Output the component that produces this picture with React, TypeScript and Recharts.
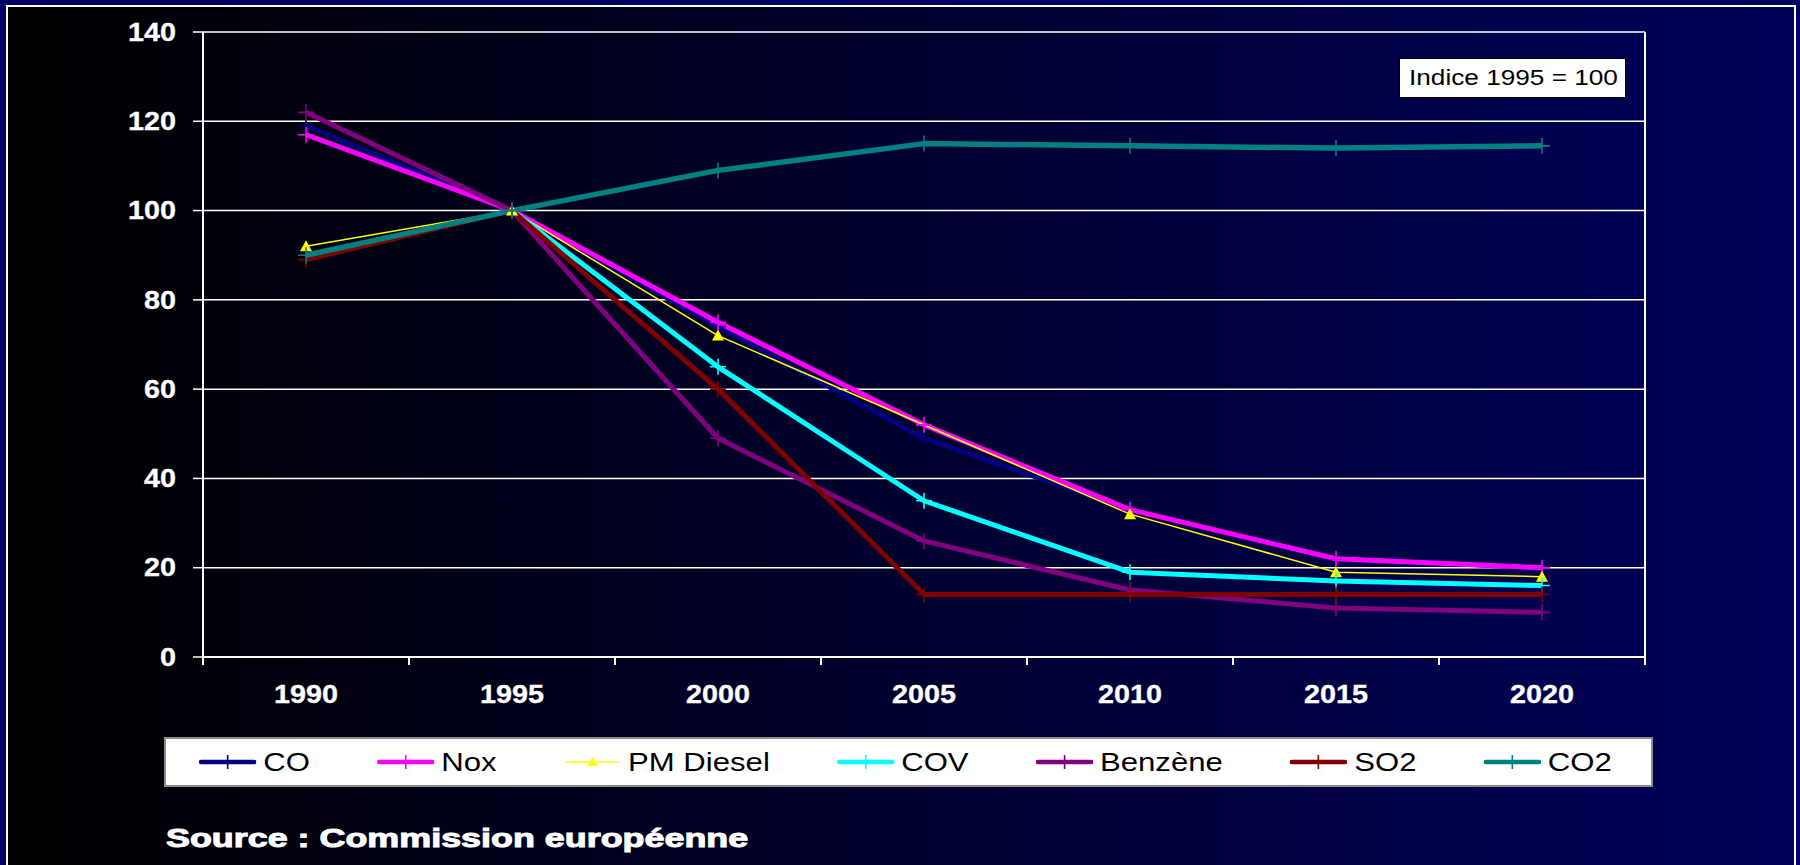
import React from "react";
import { CartesianGrid, Line, LineChart, ReferenceLine, XAxis, YAxis } from "recharts";

const years = ["1990", "1995", "2000", "2005", "2010", "2015", "2020"];
const co = [119, 100, 74, 49, 33, 22, 20];
const nox = [117, 100, 75, 52, 33, 22, 20];
const pmDiesel = [92, 100, 72, null, 32, 19, 18];
const cov = [null, 100, 65, 35, 19, 17, 16];
const benzene = [122, 100, 49, 26, 15, 11, 10];
const so2 = [89, 100, 60, 14, 14, 14, 14];
const co2 = [90, 100, 109, 115, 114.5, 114, 114.5];
const yTicks = [0, 20, 40, 60, 80, 100, 120, 140];

const FONT = "'Liberation Sans', Arial, sans-serif";

type Marker = "cross" | "triangle";

const series: { name: string; values: (number | null)[]; color: string; width: number; marker: Marker }[] = [
  { name: "CO", values: co, color: "#000080", width: 5, marker: "cross" },
  { name: "Nox", values: nox, color: "#ff00ff", width: 5, marker: "cross" },
  { name: "PM Diesel", values: pmDiesel, color: "#ffff00", width: 1.5, marker: "triangle" },
  { name: "COV", values: cov, color: "#00ffff", width: 5, marker: "cross" },
  { name: "Benzène", values: benzene, color: "#800080", width: 5, marker: "cross" },
  { name: "SO2", values: so2, color: "#800000", width: 5, marker: "cross" },
  { name: "CO2", values: co2, color: "#008080", width: 5.5, marker: "cross" },
];

// one row per year, x placed in the middle of its slot on a 0..n axis
const data = years.map((year, i) => {
  const row: Record<string, string | number | null> = { year, pos: i + 0.5 };
  series.forEach((s) => {
    row[s.name] = s.values[i];
  });
  return row;
});

// integer ticks = tick marks between categories, half ticks = year labels
const xTicks = Array.from({ length: years.length * 2 + 1 }, (_, i) => i / 2);

function XTick(props: any) {
  const { x, y, payload } = props;
  const v = payload.value as number;
  if (Number.isInteger(v)) {
    return <line x1={x} x2={x} y1={y} y2={y + 8} stroke="#ffffff" strokeWidth={2} />;
  }
  return (
    <text
      transform={`translate(${x},${y + 37}) scale(1.15,1)`}
      dy="0.35em"
      textAnchor="middle"
      fill="#ffffff"
      stroke="#ffffff"
      strokeWidth={0.3}
      fontFamily={FONT}
      fontWeight="bold"
      fontSize={25}
    >
      {years[Math.floor(v)]}
    </text>
  );
}

function YTick(props: any) {
  const { x, y, payload } = props;
  return (
    <text
      transform={`translate(${x},${y}) scale(1.15,1)`}
      dy="0.35em"
      textAnchor="end"
      fill="#ffffff"
      stroke="#ffffff"
      strokeWidth={0.3}
      fontFamily={FONT}
      fontWeight="bold"
      fontSize={25}
    >
      {payload.value}
    </text>
  );
}

function makeDot(color: string, marker: Marker) {
  return (props: any) => {
    const { cx, cy, index } = props;
    if (cx == null || cy == null) return <g key={`d-${index}`} />;
    if (marker === "triangle") {
      return (
        <path
          key={`d-${index}`}
          d={`M${cx},${cy - 6}L${cx + 6},${cy + 5}L${cx - 6},${cy + 5}Z`}
          fill={color}
          stroke="none"
        />
      );
    }
    return (
      <path
        key={`d-${index}`}
        d={`M${cx - 8},${cy}h16M${cx},${cy - 8}v16`}
        stroke={color}
        strokeWidth={1.6}
        fill="none"
      />
    );
  };
}

function LegendKey({ color, width, marker }: { color: string; width: number; marker: Marker }) {
  return (
    <svg width={47} height={24} style={{ display: "block" }}>
      <line x1={2} x2={45} y1={12} y2={12} stroke={color} strokeWidth={width > 2 ? 4.5 : 1.5} strokeLinecap="round" />
      {marker === "triangle" ? (
        <path d="M23.5,7L28,16L19,16Z" fill={color} />
      ) : (
        <path d="M23.5,5v14" stroke={color} strokeWidth={1.3} />
      )}
    </svg>
  );
}

export default function App() {
  return (
    <div
      style={{
        position: "fixed",
        left: 0,
        top: 0,
        width: 1800,
        height: 865,
        overflow: "hidden",
        background: "#000062",
      }}
    >
      <div
        style={{
          position: "absolute",
          left: 6,
          top: 5,
          width: 1790,
          height: 880,
          boxSizing: "border-box",
          borderTop: "2px solid #ffffff",
          borderLeft: "2px solid #ffffff",
          borderRight: "2px solid #ffffff",
          background: "linear-gradient(90deg, #000000 0%, #00002e 50%, #00005a 100%)",
        }}
      />

      <div style={{ position: "absolute", left: 0, top: 0 }}>
        <LineChart width={1800} height={720} data={data} margin={{ top: 32, right: 155, left: 143, bottom: 23 }}>
          <CartesianGrid vertical={false} stroke="#ffffff" strokeWidth={1.5} />
          <XAxis
            type="number"
            dataKey="pos"
            domain={[0, years.length]}
            ticks={xTicks}
            interval={0}
            height={40}
            tickSize={0}
            tickMargin={0}
            tickLine={false}
            axisLine={{ stroke: "#ffffff", strokeWidth: 2 }}
            tick={<XTick />}
          />
          <YAxis
            type="number"
            domain={[0, 140]}
            ticks={yTicks}
            interval={0}
            width={60}
            tickSize={10}
            tickMargin={17}
            axisLine={{ stroke: "#ffffff", strokeWidth: 2 }}
            tickLine={{ stroke: "#ffffff", strokeWidth: 1.5 }}
            tick={<YTick />}
          />
          <ReferenceLine x={years.length} stroke="#ffffff" strokeWidth={2} />
          {series.map((s) => (
            <Line
              key={s.name}
              type="linear"
              dataKey={s.name}
              stroke={s.color}
              strokeWidth={s.width}
              strokeLinejoin="round"
              dot={makeDot(s.color, s.marker)}
              activeDot={false}
              connectNulls
              isAnimationActive={false}
            />
          ))}
        </LineChart>
      </div>

      <div
        style={{
          position: "absolute",
          left: 1399,
          top: 58,
          width: 227,
          height: 40,
          boxSizing: "border-box",
          background: "#ffffff",
          border: "1.5px solid #000000",
          display: "flex",
          alignItems: "center",
          paddingLeft: 9,
        }}
      >
        <span
          style={{
            fontFamily: FONT,
            fontSize: 22,
            color: "#000000",
            transform: "scaleX(1.19)",
            transformOrigin: "left center",
            whiteSpace: "nowrap",
          }}
        >
          Indice 1995 = 100
        </span>
      </div>

      <div
        style={{
          position: "absolute",
          left: 164,
          top: 737,
          width: 1489,
          height: 50,
          boxSizing: "border-box",
          background: "#ffffff",
          border: "2px solid #8c8c8c",
        }}
      >
        <div
          style={{
            position: "absolute",
            left: 33,
            top: 0,
            height: 46,
            display: "flex",
            alignItems: "center",
            transform: "scaleX(1.22)",
            transformOrigin: "left center",
            whiteSpace: "nowrap",
          }}
        >
          {series.map((s, i) => (
            <div key={s.name} style={{ display: "flex", alignItems: "center", marginLeft: i ? 55 : 0 }}>
              <LegendKey color={s.color} width={s.width} marker={s.marker} />
              <span style={{ marginLeft: 5.7, fontFamily: FONT, fontSize: 25.5, color: "#000000" }}>{s.name}</span>
            </div>
          ))}
        </div>
      </div>

      <div
        style={{
          position: "absolute",
          left: 166,
          top: 823,
          lineHeight: "30px",
          fontFamily: FONT,
          fontWeight: "bold",
          fontSize: 26,
          color: "#ffffff",
          WebkitTextStroke: "1px #ffffff",
          transform: "scaleX(1.38)",
          transformOrigin: "left center",
          whiteSpace: "nowrap",
        }}
      >
        Source : Commission européenne
      </div>
    </div>
  );
}
